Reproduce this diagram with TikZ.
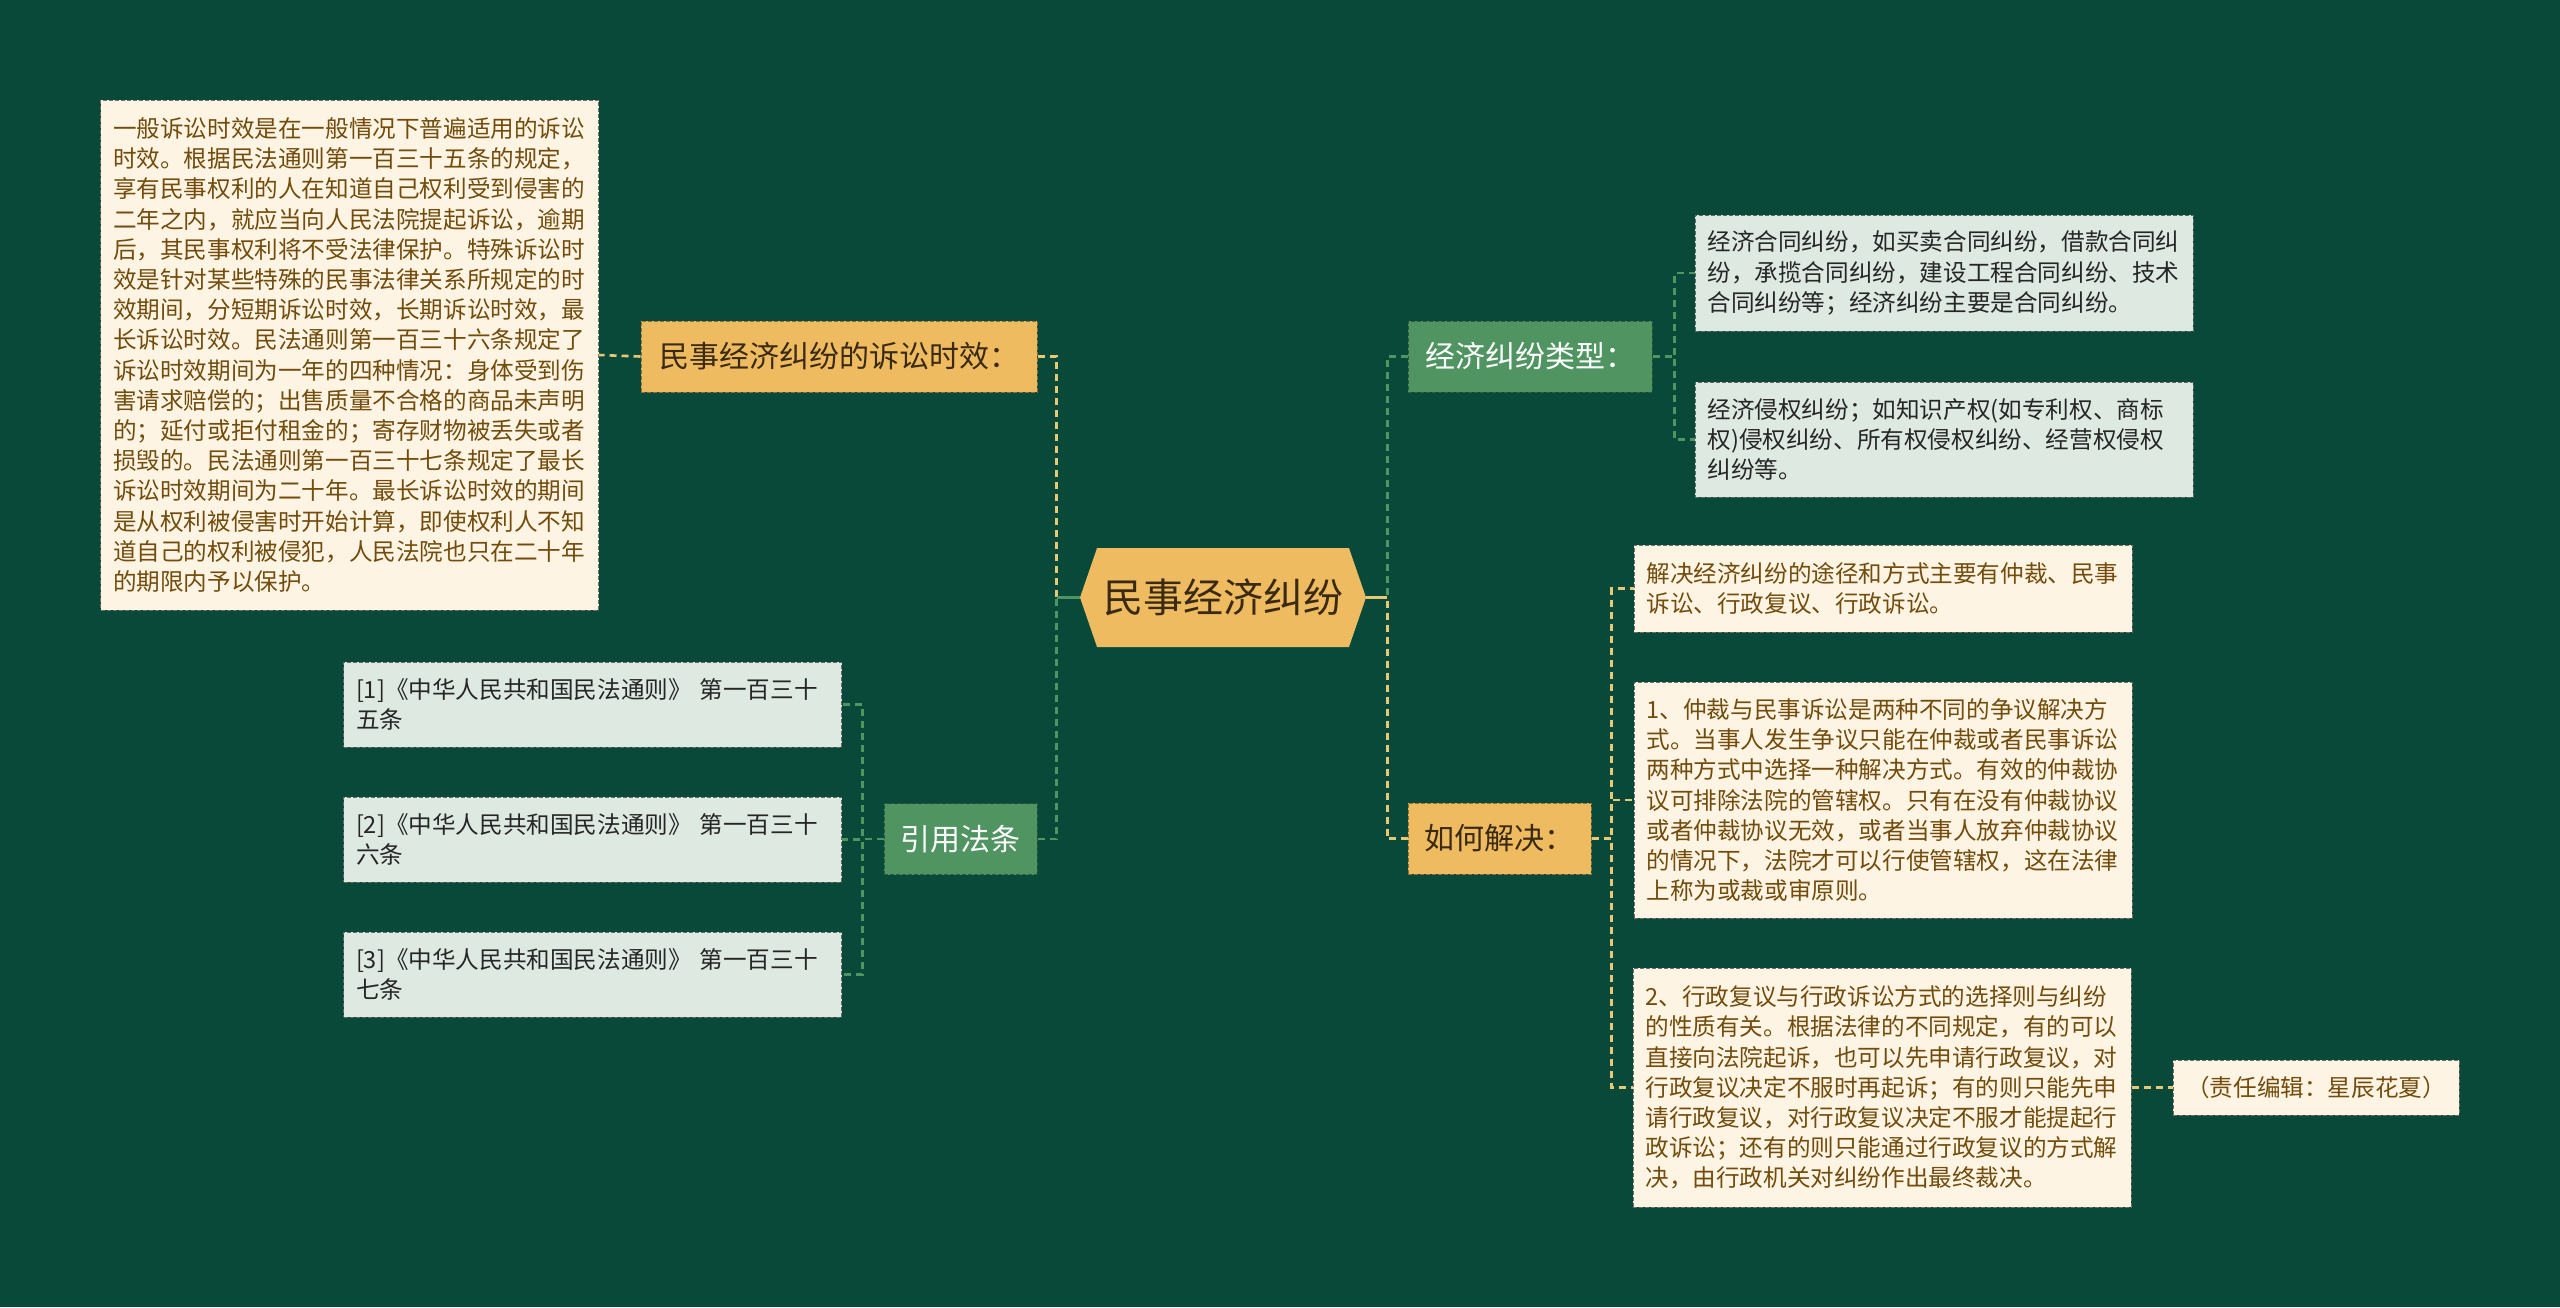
\documentclass[tikz,border=0pt]{standalone}
\usepackage{fontspec}
\setmainfont{Noto Sans CJK SC}
\usetikzlibrary{shapes.symbols}
\definecolor{bg}{RGB}{9,73,58}
\definecolor{gold}{RGB}{238,187,97}
\definecolor{leaf}{RGB}{80,148,98}
\definecolor{cream}{RGB}{253,244,228}
\definecolor{mist}{RGB}{221,233,225}
\definecolor{brown}{RGB}{115,76,12}
\definecolor{ink}{RGB}{58,42,18}
\definecolor{goldline}{RGB}{232,200,115}
\tikzstyle{root}=[signal,signal to=east and west,signal pointer angle=142,fill=gold,text=ink,minimum width=143pt,minimum height=49.5pt,inner sep=0pt,font=\fontsize{20pt}{24pt}\selectfont]
\tikzstyle{branch}=[rectangle,draw,dash pattern=on 2pt off 1pt,line width=0.5pt,minimum height=35.5pt,inner sep=0pt,font=\fontsize{15pt}{18pt}\selectfont]
\tikzstyle{goldbranch}=[branch,fill=gold,draw=gold!60!black,text=ink]
\tikzstyle{leafbranch}=[branch,fill=leaf,draw=leaf!60!black,text=white]
\tikzstyle{note}=[rectangle,draw,dash pattern=on 2pt off 1pt,line width=0.5pt,align=left,text width=236.5pt,inner xsep=6.25pt,inner ysep=0pt,font=\fontsize{11.8pt}{15.1pt}\selectfont]
\tikzstyle{creamnote}=[note,fill=cream,draw=cream!45!black,text=brown]
\tikzstyle{mistnote}=[note,fill=mist,draw=mist!45!black,text=black!85]
\tikzstyle{goldedge}=[draw=goldline,line width=1.3pt,dash pattern=on 3.5pt off 2.5pt]
\tikzstyle{leafedge}=[draw=leaf,line width=1.3pt,dash pattern=on 3.5pt off 2.5pt]
\tikzstyle{stub}=[draw,line width=1.3pt]

\begin{document}
\begin{tikzpicture}[x=0.5pt,y=-0.5pt]
        \useasboundingbox (0,0) rectangle (2560,1307);
        \fill[bg] (0,0) rectangle (2560,1307);
        \node[root] (root) at (1223,597.5) {民事经济纠纷};
        % left side
        \node[goldbranch,minimum width=198pt] (limit) at (839,356.5) {民事经济纠纷的诉讼时效：};
        \node[creamnote,minimum height=255pt] (limitnote) at (349.5,355) {一般诉讼时效是在一般情况下普遍适用的诉讼\\时效。根据民法通则第一百三十五条的规定，\\享有民事权利的人在知道自己权利受到侵害的\\二年之内，就应当向人民法院提起诉讼，逾期\\后，其民事权利将不受法律保护。特殊诉讼时\\效是针对某些特殊的民事法律关系所规定的时\\效期间，分短期诉讼时效，长期诉讼时效，最\\长诉讼时效。民法通则第一百三十六条规定了\\诉讼时效期间为一年的四种情况：身体受到伤\\害请求赔偿的；出售质量不合格的商品未声明\\的；延付或拒付租金的；寄存财物被丢失或者\\损毁的。民法通则第一百三十七条规定了最长\\诉讼时效期间为二十年。最长诉讼时效的期间\\是从权利被侵害时开始计算，即使权利人不知\\道自己的权利被侵犯，人民法院也只在二十年\\的期限内予以保护。};
        \node[leafbranch,minimum width=76.5pt] (cite) at (960.5,839) {引用法条};
        \node[mistnote,minimum height=42.5pt] (cite1) at (592.5,704.5) {[1]《中华人民共和国民法通则》 第一百三十\\五条};
        \node[mistnote,minimum height=42.5pt] (cite2) at (592.5,839.5) {[2]《中华人民共和国民法通则》 第一百三十\\六条};
        \node[mistnote,minimum height=42.5pt] (cite3) at (592.5,974.5) {[3]《中华人民共和国民法通则》 第一百三十\\七条};
        % right side
        \node[leafbranch,minimum width=122pt] (kind) at (1530,356.5) {经济纠纷类型：};
        \node[mistnote,minimum height=58pt] (kind1) at (1944,273) {经济合同纠纷，如买卖合同纠纷，借款合同纠\\纷，承揽合同纠纷，建设工程合同纠纷、技术\\合同纠纷等；经济纠纷主要是合同纠纷。};
        \node[mistnote,minimum height=57.5pt] (kind2) at (1944,439.5) {经济侵权纠纷；如知识产权(如专利权、商标\\权)侵权纠纷、所有权侵权纠纷、经营权侵权\\纠纷等。};
        \node[goldbranch,minimum width=91.5pt] (solve) at (1499.5,838.5) {如何解决：};
        \node[creamnote,minimum height=43.5pt] (solve1) at (1883,588.5) {解决经济纠纷的途径和方式主要有仲裁、民事\\诉讼、行政复议、行政诉讼。};
        \node[creamnote,minimum height=118pt] (solve2) at (1883,800) {1、仲裁与民事诉讼是两种不同的争议解决方\\式。当事人发生争议只能在仲裁或者民事诉讼\\两种方式中选择一种解决方式。有效的仲裁协\\议可排除法院的管辖权。只有在没有仲裁协议\\或者仲裁协议无效，或者当事人放弃仲裁协议\\的情况下，法院才可以行使管辖权，这在法律\\上称为或裁或审原则。};
        \node[creamnote,minimum height=119.5pt] (solve3) at (1882,1087.5) {2、行政复议与行政诉讼方式的选择则与纠纷\\的性质有关。根据法律的不同规定，有的可以\\直接向法院起诉，也可以先申请行政复议，对\\行政复议决定不服时再起诉；有的则只能先申\\请行政复议，对行政复议决定不服才能提起行\\政诉讼；还有的则只能通过行政复议的方式解\\决，由行政机关对纠纷作出最终裁决。};
        \node[creamnote,text width=130.5pt,align=center,minimum height=27.5pt] (editor) at (2316,1087.5) {（责任编辑：星辰花夏）};
        % connectors
        \path[goldedge] (root.west) -- ++(-23,0) |- (limit.east);
        \path[leafedge] (root.west) -- ++(-23,0) |- (cite.east);
        \path[stub,leaf] (root.west) -- ++(-23,0);
        \path[goldedge] (limit.west) -- (limitnote.east);
        \path[leafedge] (cite.west) -- ++(-21,0) |- (cite1.east);
        \path[leafedge] (cite.west) -- ++(-21,0) |- (cite2.east);
        \path[leafedge] (cite.west) -- ++(-21,0) |- (cite3.east);
        \path[leafedge] (root.east) -- ++(21,0) |- (kind.west);
        \path[goldedge] (root.east) -- ++(21,0) |- (solve.west);
        \path[stub,goldline] (root.east) -- ++(21,0);
        \path[leafedge] (kind.east) -- ++(22,0) |- (kind1.west);
        \path[leafedge] (kind.east) -- ++(22,0) |- (kind2.west);
        \path[goldedge] (solve.east) -- ++(20,0) |- (solve1.west);
        \path[goldedge] (solve.east) -- ++(20,0) |- (solve2.west);
        \path[goldedge] (solve.east) -- ++(20,0) |- (solve3.west);
        \path[goldedge] (solve3.east) -- (editor.west);
    \end{tikzpicture}
\end{document}
